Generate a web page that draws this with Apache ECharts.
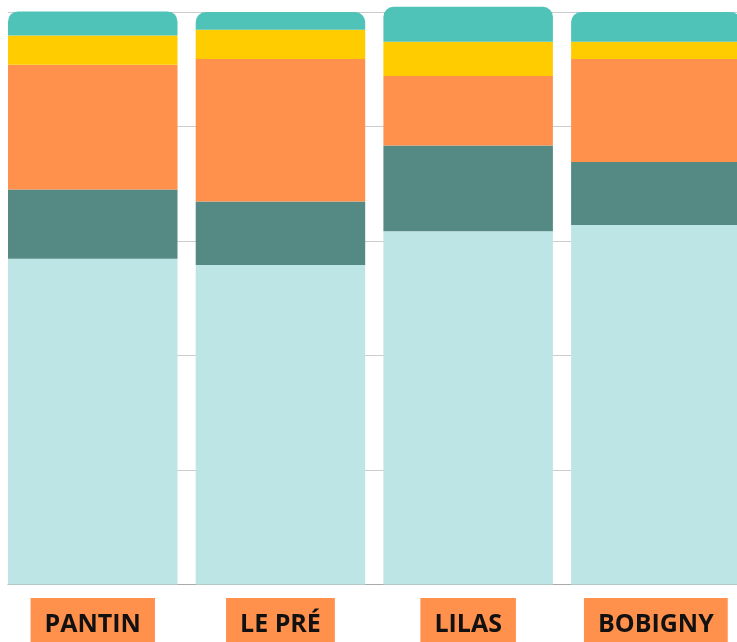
<!DOCTYPE html>
<html>
<head>
<meta charset="utf-8">
<script src="https://cdn.jsdelivr.net/npm/echarts@6/dist/echarts.min.js"></script>
<style>
html,body{margin:0;padding:0;background:#fff;}
#chart{width:737px;height:642px;}
</style>
</head>
<body>
<div id="chart"></div>
<script>
const categories = ['PANTIN', 'LE PRÉ', 'LILAS', 'BOBIGNY'];
const base    = [56.9, 55.8, 61.7, 62.8];
const dark    = [12.1, 11.1, 15.0, 11.0];
const orange  = [21.8, 24.9, 12.1, 18.0];
const yellow  = [5.1, 5.1, 6.0, 3.0];
const teal    = [4.2, 3.1, 6.1, 5.2];
const spacer  = [0, 0, 0, 0];
const yTicks  = [0, 20, 40, 60, 80, 100];

const chart = echarts.init(document.getElementById('chart'));
const BW = 169.5, GAP = 18.2;
function seg(name, data, color, top) {
  return {
    name: name, type: 'bar', stack: 'a', data: data, barWidth: BW, barGap: 0,
    clip: false, silent: true,
    itemStyle: { color: color, borderRadius: top ? [10, 10, 0, 0] : 0 }
  };
}
chart.setOption({
  animation: false,
  grid: { left: 8, top: 12, width: 4 * (BW + GAP), height: 572.5, outerBoundsMode: 'none', containLabel: false },
  xAxis: {
    type: 'category', data: categories,
    axisLine: { lineStyle: { color: '#aaaaaa', width: 1 } },
    axisTick: { show: false },
    axisLabel: {
      margin: 26, interval: 0, hideOverlap: false,
      formatter: v => '{a|' + v + '}{s| }',
      rich: {
        a: { fontFamily: 'Open Sans', fontWeight: 'bold', fontSize: 25, color: '#111',
             backgroundColor: '#FF914D', padding: [14, 14, 16, 14], lineHeight: 30 },
        s: { width: GAP, fontSize: 10 }
      }
    }
  },
  yAxis: {
    type: 'value', min: yTicks[0], max: yTicks[yTicks.length - 1], interval: 20,
    axisLabel: { show: false }, axisLine: { show: false }, axisTick: { show: false },
    splitLine: { lineStyle: { color: '#cccccc', width: 1 } }
  },
  series: [
    seg('Base', base, '#BEE5E5', false),
    seg('Sombre', dark, '#558A84', false),
    seg('Orange', orange, '#FF914D', false),
    seg('Jaune', yellow, '#FFCC00', false),
    seg('Turquoise', teal, '#4FC3B8', true),
    { name: 'spacer', type: 'bar', stack: 'b', data: spacer, barWidth: GAP, barGap: 0, silent: true,
      itemStyle: { color: 'rgba(0,0,0,0)' } }
  ]
});
</script>
</body>
</html>
